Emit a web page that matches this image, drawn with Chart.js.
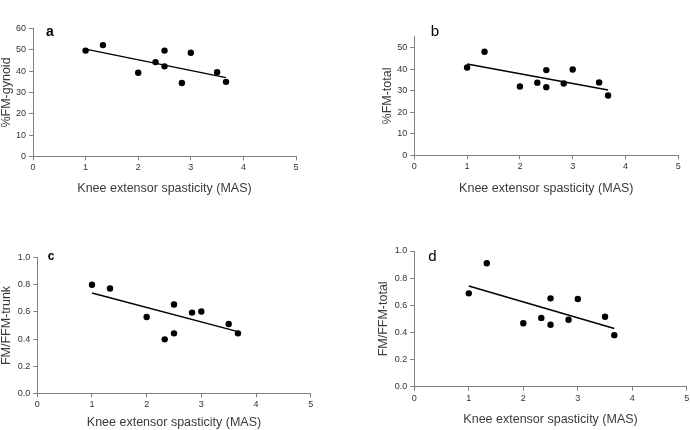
<!DOCTYPE html>
<html>
<head>
<meta charset="utf-8">
<script src="https://cdn.jsdelivr.net/npm/chart.js@4/dist/chart.umd.min.js"></script>
<style>
    body { margin: 0; background: #fff; }
    #wrap { position: relative; width: 690px; height: 430px; }
    .panel { position: absolute; width: 345px; height: 215px; }
</style>
</head>
<body>
<div id="wrap">
    <div class="panel" style="left:0;top:0"><canvas id="chartA" width="345" height="215"></canvas></div>
    <div class="panel" style="left:345px;top:0"><canvas id="chartB" width="345" height="215"></canvas></div>
    <div class="panel" style="left:0;top:215px"><canvas id="chartC" width="345" height="215"></canvas></div>
    <div class="panel" style="left:345px;top:215px"><canvas id="chartD" width="345" height="215"></canvas></div>
</div>
<script>
// Knee extensor spasticity (MAS) vs body composition

const spasticity = [1.0, 1.33, 2.0, 2.33, 2.5, 2.5, 2.83, 3.0, 3.5, 3.67];
const fmGynoid = [49.7, 52.3, 39.3, 44.3, 49.7, 42.3, 34.5, 48.7, 39.5, 35.0];
const fmTotal = [40.7, 48.0, 31.9, 33.7, 39.5, 31.6, 33.3, 39.8, 33.8, 27.7];
const fmFfmTrunk = [0.80, 0.773, 0.563, 0.398, 0.655, 0.442, 0.595, 0.603, 0.511, 0.442];
const fmFfmTotal = [0.688, 0.91, 0.468, 0.507, 0.651, 0.456, 0.493, 0.646, 0.515, 0.380];

// regression lines (end points)
const trendX = [1.0, 3.67];
const trendGynoid = [50.4, 37.0];
const trendTotal = [42.3, 30.3];
const trendTrunk = [0.739, 0.455];
const trendFfmTotal = [0.742, 0.429];

// tick labels
const xTicks = [0, 1, 2, 3, 4, 5];
const yTicksGynoid = [0, 10, 20, 30, 40, 50, 60];
const yTicksTotal = [0, 10, 20, 30, 40, 50];
const yTicksRatio = [0, 0.2, 0.4, 0.6, 0.8, 1.0];

const xTitle = 'Knee extensor spasticity (MAS)';
const axisGrey = '#808080';
const fontFamily = 'Arial, "Liberation Sans", sans-serif';

// draws the panel letter (a, b, c, d)
const panelLetter = {
    id: 'panelLetter',
    afterDraw(chart, args, opts) {
        const ctx = chart.ctx;
        ctx.save();
        ctx.fillStyle = '#000';
        ctx.font = opts.font;
        ctx.textBaseline = 'alphabetic';
        ctx.textAlign = 'left';
        ctx.fillText(opts.text, opts.x, opts.y);
        ctx.restore();
    }
};

function toPoints(xs, ys) {
    return xs.map((x, i) => ({ x: x, y: ys[i] }));
}

function makePanel(id, values, trend, yTicks, yMax, decimals, yTitle, letter, box) {
    const ctx = document.getElementById(id).getContext('2d');
    return new Chart(ctx, {
        type: 'scatter',
        data: {
            datasets: [{
                data: toPoints(spasticity, values),
                backgroundColor: '#000',
                borderWidth: 0,
                pointRadius: 3.2,
                pointHoverRadius: 3.2
            }, {
                type: 'line',
                data: toPoints(trendX, trend),
                borderColor: '#000',
                borderWidth: 1.5,
                pointRadius: 0,
                fill: false,
                tension: 0
            }]
        },
        options: {
            responsive: false,
            animation: false,
            devicePixelRatio: 1,
            layout: {
                padding: { left: box.padLeft, right: box.padRight, top: box.padTop, bottom: box.padBottom }
            },
            plugins: {
                legend: { display: false },
                tooltip: { enabled: false },
                panelLetter: letter
            },
            scales: {
                x: {
                    type: 'linear',
                    min: 0,
                    max: 5,
                    afterBuildTicks: s => { s.ticks = xTicks.map(v => ({ value: v })); },
                    afterFit: s => { s.height = box.xHeight; s.paddingLeft = 0; s.paddingRight = 0; },
                    border: { display: true, color: axisGrey, width: 1 },
                    grid: { drawOnChartArea: false, drawTicks: true, tickLength: 4, color: axisGrey, tickColor: axisGrey },
                    ticks: { padding: 2, color: '#333', font: { family: fontFamily, size: 9 }, maxRotation: 0 },
                    title: {
                        display: true,
                        text: xTitle,
                        color: '#3a3a3a',
                        padding: 0,
                        font: { family: fontFamily, size: 12.5, lineHeight: 1 }
                    }
                },
                y: {
                    type: 'linear',
                    min: 0,
                    max: yMax,
                    afterBuildTicks: s => { s.ticks = yTicks.map(v => ({ value: v })); },
                    afterFit: s => { s.width = box.yWidth; },
                    border: { display: true, color: axisGrey, width: 1 },
                    grid: { drawOnChartArea: false, drawTicks: true, tickLength: 4, color: axisGrey, tickColor: axisGrey },
                    ticks: {
                        padding: 3,
                        color: '#333',
                        font: { family: fontFamily, size: 9 },
                        callback: v => v.toFixed(decimals)
                    },
                    title: {
                        display: true,
                        text: yTitle,
                        color: '#3a3a3a',
                        padding: 0,
                        font: { family: fontFamily, size: 12.5, lineHeight: 1 }
                    }
                }
            }
        },
        plugins: [panelLetter]
    });
}

makePanel('chartA', fmGynoid, trendGynoid, yTicksGynoid, 60, 0, '%FM-gynoid',
    { text: 'a', x: 46, y: 35.7, font: 'bold 14px ' + fontFamily },
    { padLeft: 0, padRight: 49, padTop: 28.7, padBottom: 20.3, yWidth: 33, xHeight: 38.4 });

makePanel('chartB', fmTotal, trendTotal, yTicksTotal, 55, 0, '%FM-total',
    { text: 'b', x: 85.7, y: 35.7, font: '15px ' + fontFamily },
    { padLeft: 36, padRight: 11.7, padTop: 36.7, padBottom: 20.3, yWidth: 33.3, xHeight: 39.4 });

makePanel('chartC', fmFfmTrunk, trendTrunk, yTicksRatio, 1.0, 1, 'FM/FFM-trunk',
    { text: 'c', x: 47.7, y: 45, font: 'bold 12px ' + fontFamily },
    { padLeft: 0, padRight: 34.3, padTop: 42.7, padBottom: 1.3, yWidth: 37.3, xHeight: 35.4 });

makePanel('chartD', fmFfmTotal, trendFfmTotal, yTicksRatio, 1.0, 1, 'FM/FFM-total',
    { text: 'd', x: 83.3, y: 45.7, font: '15px ' + fontFamily },
    { padLeft: 32, padRight: 1.7, padTop: 36, padBottom: 4.7, yWidth: 37.3, xHeight: 38.6 });
</script>
</body>
</html>
